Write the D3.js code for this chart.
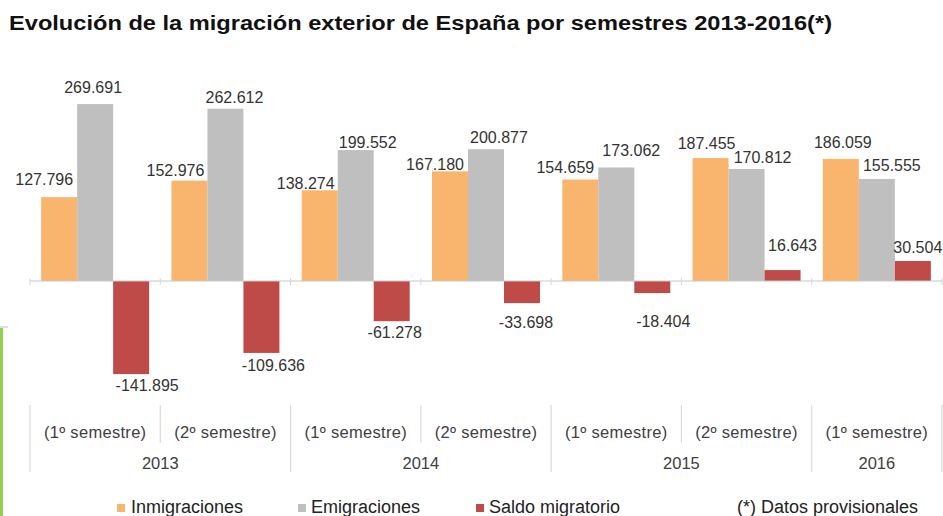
<!DOCTYPE html>
<html>
<head>
<meta charset="utf-8">
<script src="https://cdn.jsdelivr.net/npm/d3@7"></script>
<style>
  html, body { margin: 0; padding: 0; background: #fff; }
  svg { display: block; font-family: "Liberation Sans", Arial, sans-serif; }
</style>
</head>
<body>
<svg id="chart" width="943" height="516"></svg>
<script>
// ---------- data ----------
const semesters = ["(1º semestre)", "(2º semestre)", "(1º semestre)", "(2º semestre)", "(1º semestre)", "(2º semestre)", "(1º semestre)"];
const years = ["2013", "2014", "2015", "2016"];
const yearSpans = [2, 2, 2, 1];
const inmigraciones = [127796, 152976, 138274, 167180, 154659, 187455, 186059];
const emigraciones  = [269691, 262612, 199552, 200877, 173062, 170812, 155555];
const saldo         = [-141895, -109636, -61278, -33698, -18404, 16643, 30504];
const seriesNames = ["Inmigraciones", "Emigraciones", "Saldo migratorio"];
const title = "Evolución de la migración exterior de España por semestres 2013-2016(*)";
const note = "(*) Datos provisionales";

// ---------- layout / style (not data) ----------
const colors = ["#F9B56D", "#BFBFBF", "#BE4B48"];
const labelNudgeX = [
  [-15, -14, -14, -15, -15, -4, 2],
  [-2, 9, 12, 13, 15, 16, 15],
  [16, 12, 3, 4, 11, 10, 5]
];
const labelNudgeY = [
  [-6, 2, 5, 5, 0, -3, -5],
  [-5, 1, 4, 0, -5, 0, -2],
  [-1, 0, -1, 7, 16, -13, -2]
];

const series = [inmigraciones, emigraciones, saldo];
const svg = d3.select("#chart");
const fmt0 = d3.formatLocale({ decimal: ",", thousands: ".", grouping: [3], currency: ["", "€"], minus: "-" }).format(",d");
const fmt = v => fmt0(v).replace("\u2212", "-");

const left = 30, right = 942, baseY = 281;
const x0 = d3.scaleBand().domain(d3.range(semesters.length)).range([left, right]).padding(0);
const x1 = d3.scaleBand().domain(d3.range(series.length)).range([0, x0.bandwidth()]).paddingInner(0).paddingOuter(0.31);
const y = d3.scaleLinear().domain([-200000, 300000]).range([baseY + 131.2, baseY - 196.8]);

// left-edge artifacts of the original crop
svg.append("rect").attr("x", 0).attr("y", 328).attr("width", 3).attr("height", 188).attr("fill", "#92D050");
svg.append("line").attr("x1", 0).attr("x2", 8).attr("y1", 327).attr("y2", 327).attr("stroke", "#BBBBBB");

// title
svg.append("text")
  .attr("x", 9).attr("y", 30)
  .attr("font-size", 20).attr("font-weight", "bold").attr("fill", "#111")
  .attr("textLength", 823).attr("lengthAdjust", "spacingAndGlyphs")
  .text(title);

// bars
const groups = svg.append("g").selectAll("g")
  .data(semesters.map((s, i) => i))
  .join("g")
  .attr("transform", i => `translate(${x0(i)},0)`);

groups.selectAll("rect")
  .data(i => series.map((arr, s) => ({ s, i, v: arr[i] })))
  .join("rect")
  .attr("x", d => x1(d.s))
  .attr("width", x1.bandwidth())
  .attr("y", d => Math.min(y(d.v), y(0)))
  .attr("height", d => Math.abs(y(d.v) - y(0)))
  .attr("fill", d => colors[d.s]);

// axis line + small ticks
svg.append("line").attr("x1", left).attr("x2", right).attr("y1", baseY).attr("y2", baseY)
  .attr("stroke", "#C8C8C8").attr("stroke-width", 1.2);
svg.append("g").selectAll("line")
  .data(d3.range(semesters.length + 1))
  .join("line")
  .attr("x1", i => left + i * x0.step()).attr("x2", i => left + i * x0.step())
  .attr("y1", baseY - 3).attr("y2", baseY + 4)
  .attr("stroke", "#D8D8D8");

// value labels
groups.selectAll("text.val")
  .data(i => series.map((arr, s) => ({ s, i, v: arr[i] })))
  .join("text")
  .attr("class", "val")
  .attr("text-anchor", "middle")
  .attr("font-size", 16).attr("fill", "#333")
  .attr("x", d => x1(d.s) + x1.bandwidth() / 2 + labelNudgeX[d.s][d.i])
  .attr("y", d => {
    const c = d.v >= 0 ? y(d.v) - 12 : y(d.v) + 12;
    return c + labelNudgeY[d.s][d.i] + 5.7;
  })
  .text(d => fmt(d.v));

// category axis: semester labels
svg.append("g").selectAll("text")
  .data(semesters)
  .join("text")
  .attr("x", (d, i) => x0(i) + x0.bandwidth() / 2)
  .attr("y", 438)
  .attr("text-anchor", "middle").attr("font-size", 16.5).attr("fill", "#404040")
  .attr("letter-spacing", 0.3)
  .text(d => d);

// separators
const sepColor = "#D9D9D9";
let idx = 0;
const yearBounds = [0];
yearSpans.forEach(n => { idx += n; yearBounds.push(idx); });
d3.range(semesters.length + 1).forEach(i => {
  const isYear = yearBounds.includes(i);
  svg.append("line")
    .attr("x1", left + i * x0.step()).attr("x2", left + i * x0.step())
    .attr("y1", 405).attr("y2", isYear ? 472 : 443)
    .attr("stroke", sepColor).attr("stroke-width", 1.2);
});

// year labels
svg.append("g").selectAll("text")
  .data(years)
  .join("text")
  .attr("x", (d, i) => left + (yearBounds[i] + yearBounds[i + 1]) / 2 * x0.step())
  .attr("y", 469)
  .attr("text-anchor", "middle").attr("font-size", 16.5).attr("fill", "#404040")
  .text(d => d);

// legend
const legendX = [117, 298, 476];
const leg = svg.append("g").selectAll("g")
  .data(seriesNames)
  .join("g")
  .attr("transform", (d, i) => `translate(${legendX[i]},0)`);
leg.append("rect").attr("x", 0).attr("y", 504).attr("width", 8).attr("height", 8)
  .attr("fill", (d, i) => colors[i]);
leg.append("text").attr("x", (d, i) => i === 0 ? 14 : 13).attr("y", 513)
  .attr("font-size", 18).attr("fill", "#222").text(d => d);

svg.append("text").attr("x", 737).attr("y", 513)
  .attr("font-size", 18).attr("fill", "#222").text(note);
</script>
</body>
</html>
